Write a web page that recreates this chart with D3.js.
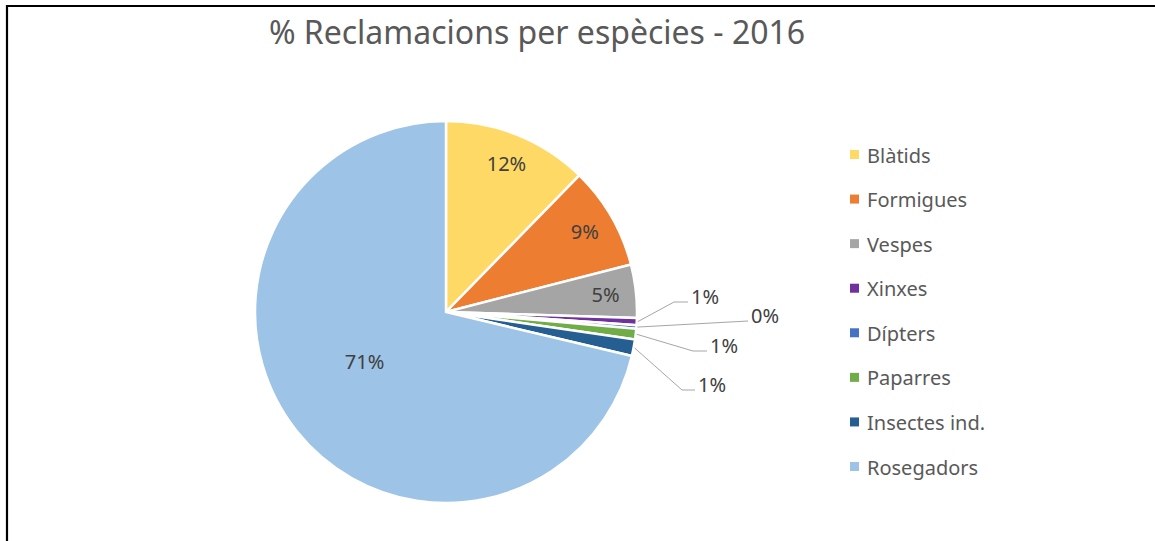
<!DOCTYPE html>
<html>
<head>
<meta charset="utf-8">
<script src="https://cdn.jsdelivr.net/npm/d3@7"></script>
<style>
  html, body { margin: 0; padding: 0; background: #fff; }
  svg { display: block; }
</style>
</head>
<body>
<svg id="chart" width="1155" height="541"></svg>
<script>
const title = "% Reclamacions per espècies - 2016";
const categories = ["Blàtids", "Formigues", "Vespes", "Xinxes", "Dípters", "Paparres", "Insectes ind.", "Rosegadors"];
const values = [12.3, 8.7, 4.5, 0.6, 0.3, 0.9, 1.4, 71.3];
const colors = ["#FFD966", "#ED7D31", "#A5A5A5", "#7030A0", "#4472C4", "#70AD47", "#255E91", "#9DC3E6"];

// layout of outside labels (elbow offsets from pie centre, label-line end) – styling only
const outsideLayout = {
  "Xinxes":        {ex: 228, ey: -10, hx: 242},
  "Dípters":       {ex: 302, ey: 9,   hx: 302},
  "Paparres":      {ex: 247, ey: 39,  hx: 261},
  "Insectes ind.": {ex: 236, ey: 78,  hx: 249}
};

const W = 1155, H = 541;
const FONT = "'Noto Sans', 'Open Sans', sans-serif";
const svg = d3.select("#chart");

// frame
svg.append("path")
  .attr("d", `M7,${H + 5} L7,6 L${W + 5},6`)
  .attr("fill", "none").attr("stroke", "#000").attr("stroke-width", 2.2);

svg.append("text")
  .attr("x", 537).attr("y", 44)
  .attr("text-anchor", "middle")
  .attr("font-family", FONT)
  .attr("font-size", 32)
  .attr("fill", "#595959")
  .text(title);

const cx = 446, cy = 312, r = 191;
const data = categories.map((c, i) => ({name: c, value: values[i], color: colors[i]}));
const pie = d3.pie().value(d => d.value).sort(null);
const arcs = pie(data);
const arc = d3.arc().innerRadius(0).outerRadius(r);

const g = svg.append("g").attr("transform", `translate(${cx},${cy})`);

g.selectAll("path.slice")
  .data(arcs)
  .join("path")
  .attr("class", "slice")
  .attr("d", arc)
  .attr("fill", d => d.data.color)
  .attr("stroke", "#fff")
  .attr("stroke-width", 2.5)
  .attr("stroke-linejoin", "miter");

const pct = v => Math.round(v) + "%";
const labelStyle = sel => sel
  .attr("font-family", FONT)
  .attr("font-size", 20)
  .attr("fill", "#404040");

arcs.forEach(a => {
  const mid = (a.startAngle + a.endAngle) / 2;
  const lay = outsideLayout[a.data.name];
  if (!lay) {
    const big = a.data.value > 50;
    const rr = big ? r * 0.5 : r * 0.84;
    const ang = big ? mid + 0.12 : mid;
    labelStyle(g.append("text"))
      .attr("x", Math.sin(ang) * rr)
      .attr("y", -Math.cos(ang) * rr)
      .attr("text-anchor", "middle")
      .attr("dominant-baseline", "central")
      .text(pct(a.data.value));
  } else {
    const sx = Math.sin(mid) * (r + 1), sy = -Math.cos(mid) * (r + 1);
    g.append("polyline")
      .attr("points", [[sx, sy], [lay.ex, lay.ey], [lay.hx, lay.ey]].map(p => p.join(",")).join(" "))
      .attr("fill", "none")
      .attr("stroke", "#A6A6A6")
      .attr("stroke-width", 1);
    labelStyle(g.append("text"))
      .attr("x", lay.hx + 3)
      .attr("y", lay.ey - 6)
      .attr("dominant-baseline", "central")
      .text(pct(a.data.value));
  }
});

// legend
const legY = d3.scalePoint().domain(categories).range([155, 467]);
const leg = svg.append("g");
categories.forEach((c, i) => {
  leg.append("rect")
    .attr("x", 850).attr("y", legY(c) - 5)
    .attr("width", 9).attr("height", 9)
    .attr("fill", colors[i]);
  leg.append("text")
    .attr("x", 867).attr("y", legY(c))
    .attr("dominant-baseline", "central")
    .attr("font-family", FONT)
    .attr("font-size", 20)
    .attr("fill", "#595959")
    .text(c);
});
</script>
</body>
</html>
